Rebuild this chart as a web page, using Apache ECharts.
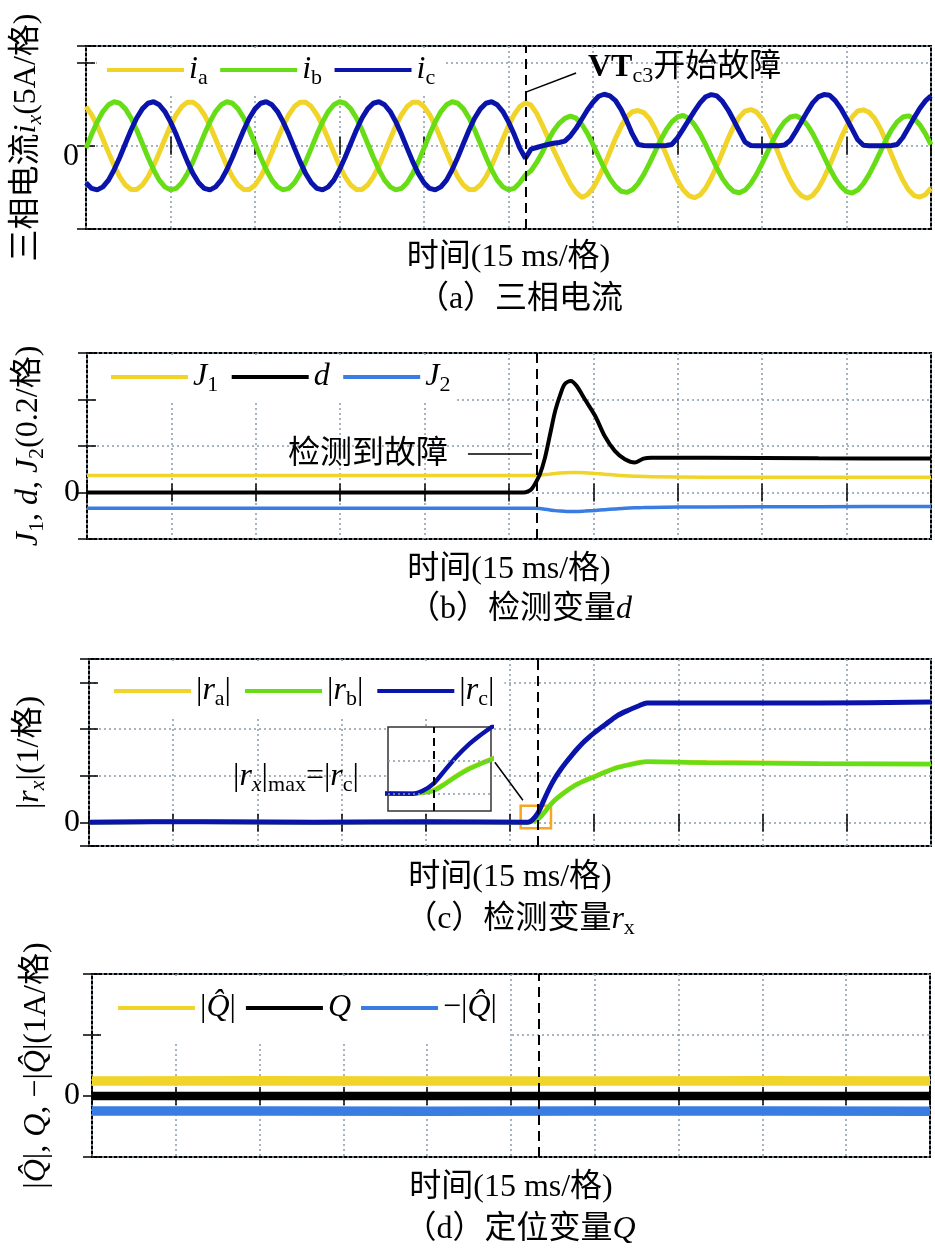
<!DOCTYPE html>
<html><head><meta charset="utf-8">
<script src="https://cdn.jsdelivr.net/npm/echarts@6/dist/echarts.min.js"></script>
<style>html,body{margin:0;padding:0;background:#fff}#c{width:935px;height:1251px}</style>
</head><body><div id="c"></div>
<script>
// ---------- data ----------
const tA = [
0,1,2,3,4,5,6,7,8,9,10,11,12,13,14,15,16,17,18,19,
20,21,22,23,24,25,26,27,28,29,30,31,32,33,34,35,36,37,38,39,
40,41,42,43,44,45,46,47,48,49,50,51,52,53,54,55,56,57,58,59,
60,61,62,63,64,65,66,67,68,69,70,71,72,73,74,75,76,77,78,79,
80,81,82,83,84,85,86,87,88,89,90,91,92,93,94,95,96,97,98,99,
100,101,102,103,104,105,106,107,108,109,110,111,112,113,114,115,116,117,118,119,
120,121,122,123,124,125,126,127,128,129,130,131,132,133,134,135,136,137,138,139,
140,141,142,143,144,145,146,147,148,149,150];
const ia = [
2.36,1.87,1.20,0.41,-0.41,-1.20,-1.87,-2.36,-2.62,-2.62,
-2.36,-1.87,-1.20,-0.41,0.41,1.20,1.87,2.36,2.62,2.62,
2.36,1.87,1.20,0.41,-0.41,-1.20,-1.87,-2.36,-2.62,-2.62,
-2.36,-1.87,-1.20,-0.41,0.41,1.20,1.87,2.36,2.62,2.62,
2.36,1.87,1.20,0.41,-0.41,-1.20,-1.87,-2.36,-2.62,-2.62,
-2.36,-1.87,-1.20,-0.41,0.41,1.20,1.87,2.36,2.62,2.62,
2.36,1.87,1.20,0.41,-0.41,-1.20,-1.87,-2.36,-2.62,-2.62,
-2.36,-1.87,-1.20,-0.41,0.41,1.20,1.87,2.36,2.58,2.45,
1.95,1.25,0.50,-0.25,-0.95,-1.65,-2.30,-2.80,-3.10,-2.94,
-2.54,-1.94,-1.19,-0.37,0.45,1.17,1.74,2.05,2.12,2.00,
1.64,1.04,0.29,-0.53,-1.35,-2.07,-2.64,-2.99,-3.12,-2.96,
-2.54,-1.94,-1.19,-0.37,0.45,1.17,1.74,2.09,2.18,2.04,
1.64,1.04,0.29,-0.53,-1.35,-2.07,-2.64,-3.00,-3.15,-2.98,
-2.56,-1.94,-1.19,-0.37,0.45,1.17,1.74,2.09,2.16,2.02,
1.64,1.04,0.29,-0.53,-1.35,-2.07,-2.64,-2.99,-3.08,-2.94,
-2.54];
const ib = [
-0.14,0.69,1.44,2.06,2.47,2.65,2.56,2.22,1.67,0.95,
0.14,-0.69,-1.44,-2.06,-2.47,-2.65,-2.56,-2.22,-1.67,-0.95,
-0.14,0.69,1.44,2.06,2.47,2.65,2.56,2.22,1.67,0.95,
0.14,-0.69,-1.44,-2.06,-2.47,-2.65,-2.56,-2.22,-1.67,-0.95,
-0.14,0.69,1.44,2.06,2.47,2.65,2.56,2.22,1.67,0.95,
0.14,-0.69,-1.44,-2.06,-2.47,-2.65,-2.56,-2.22,-1.67,-0.95,
-0.14,0.69,1.44,2.06,2.47,2.65,2.56,2.22,1.67,0.95,
0.14,-0.69,-1.44,-2.06,-2.47,-2.65,-2.56,-2.22,-1.75,-1.50,
-1.00,-0.40,0.30,0.90,1.35,1.65,1.78,1.66,1.30,0.75,
0.07,-0.64,-1.35,-1.97,-2.44,-2.73,-2.80,-2.64,-2.27,-1.73,
-1.07,-0.36,0.35,0.97,1.44,1.73,1.82,1.66,1.27,0.73,
0.07,-0.64,-1.35,-1.97,-2.44,-2.75,-2.82,-2.66,-2.27,-1.73,
-1.07,-0.36,0.35,0.97,1.44,1.73,1.80,1.64,1.27,0.73,
0.07,-0.64,-1.35,-1.97,-2.44,-2.75,-2.84,-2.66,-2.27,-1.73,
-1.07,-0.36,0.35,0.97,1.44,1.73,1.80,1.64,1.27,0.73,
0.07];
const ic = [
-2.22,-2.56,-2.65,-2.47,-2.06,-1.44,-0.69,0.14,0.95,1.67,
2.22,2.56,2.65,2.47,2.06,1.44,0.69,-0.14,-0.95,-1.67,
-2.22,-2.56,-2.65,-2.47,-2.06,-1.44,-0.69,0.14,0.95,1.67,
2.22,2.56,2.65,2.47,2.06,1.44,0.69,-0.14,-0.95,-1.67,
-2.22,-2.56,-2.65,-2.47,-2.06,-1.44,-0.69,0.14,0.95,1.67,
2.22,2.56,2.65,2.47,2.06,1.44,0.69,-0.14,-0.95,-1.67,
-2.22,-2.56,-2.65,-2.47,-2.06,-1.44,-0.69,0.14,0.95,1.67,
2.22,2.56,2.65,2.47,2.06,1.44,0.69,-0.14,-0.75,-0.20,
-0.10,0.00,0.08,0.15,0.20,0.28,0.60,1.05,1.60,2.15,
2.62,2.98,3.10,3.00,2.72,2.18,1.48,0.70,0.08,0.02,
0.00,0.00,0.01,0.02,0.08,0.48,1.00,1.55,2.08,2.58,
2.95,3.08,3.00,2.66,2.15,1.52,0.86,0.22,0.02,0.00,
0.01,0.00,0.02,0.01,0.05,0.32,0.86,1.45,2.04,2.58,
2.94,3.08,3.04,2.72,2.24,1.64,1.00,0.36,0.03,0.01,
0.00,0.01,0.00,0.02,0.08,0.50,1.08,1.68,2.24,2.70,
3.00];

const tB = [0,20,40,60,77.6,78.4,79.0,79.6,80.5,81.4,82.3,83.2,84.1,84.9,86.0,87.0,88.5,90.3,92.0,93.8,95.6,97.4,98.9,100.3,110,130,150];
const dB = [0,0,0,0,0,0.005,0.015,0.036,0.079,0.15,0.25,0.35,0.42,0.466,0.48,0.459,0.400,0.330,0.243,0.179,0.143,0.129,0.146,0.150,0.149,0.147,0.146];
const J1 = [0.073,0.073,0.073,0.073,0.073,0.073,0.073,0.074,0.075,0.077,0.079,0.082,0.084,0.085,0.086,0.086,0.085,0.082,0.079,0.075,0.072,0.070,0.069,0.068,0.066,0.066,0.066];
const J2 = [-0.068,-0.068,-0.068,-0.068,-0.068,-0.068,-0.068,-0.068,-0.069,-0.072,-0.075,-0.078,-0.080,-0.081,-0.082,-0.082,-0.080,-0.077,-0.074,-0.071,-0.068,-0.066,-0.065,-0.064,-0.062,-0.061,-0.060];

const tC = [0,20,40,60,78.2,79,80,81,82,83,84,85,86,87,88,89,90,92,94,96,98,99.4,110,130,150];
const rc = [0.01,0.02,0.01,0.02,0.01,0.06,0.21,0.47,0.73,0.95,1.13,1.29,1.44,1.58,1.71,1.82,1.92,2.10,2.28,2.40,2.50,2.56,2.56,2.56,2.58];
const rb = [0.01,0.02,0.01,0.02,0.01,0.03,0.07,0.20,0.35,0.48,0.58,0.67,0.75,0.82,0.88,0.93,0.98,1.08,1.17,1.23,1.28,1.30,1.28,1.26,1.25];
const ra = [0.01,0.02,0.01,0.02,0.01,0.03,0.08,0.21,0.36,0.49,0.59,0.68,0.76,0.83,0.89,0.94,0.99,1.09,1.18,1.24,1.29,1.31,1.29,1.27,1.26];

const tD = [0,30,60,90,120,150];
const Qh = [0.245,0.25,0.245,0.245,0.25,0.245];
const Q  = [0,0,0,0,0,0];
const nQ = [-0.245,-0.245,-0.25,-0.245,-0.245,-0.25];

const faultA = 78, detect = 80;

// ---------- styles ----------
const F = "'Liberation Serif','Noto Sans CJK SC',serif";
const YEL = '#f0d42a', GRN = '#66dd14', NAVY = '#0a14aa', LBLUE = '#3a7de2', ORG = '#f5a623';
const RICH = {
  r:  {fontFamily:F, fontSize:32, lineHeight:38, color:'#000'},
  b:  {fontFamily:F, fontSize:32, lineHeight:38, fontWeight:'bold', color:'#000'},
  i:  {fontFamily:F, fontSize:32, lineHeight:38, fontStyle:'italic', color:'#000'},
  s:  {fontFamily:F, fontSize:22, lineHeight:14, verticalAlign:'bottom', color:'#000'},
  si: {fontFamily:F, fontSize:22, lineHeight:14, verticalAlign:'bottom', fontStyle:'italic', color:'#000'}
};
const GRIDLINE = {show:true, lineStyle:{color:'#8a9aab', width:1.5, type:[2,3]}};
const TICK = {show:true, inside:true, length:9, lineStyle:{color:'#000', width:1.5}};
const pts = (t, v) => t.map((x, k) => [x, v[k]]);

function xb(g, gap){ return {type:'value', gridIndex:g, min:0, max:150, interval:15, position:'bottom',
  axisLine:{show:false}, axisTick:TICK, axisLabel:{show:false}, splitLine:GRIDLINE,
  name:'{r|时间(15 ms/格)}', nameLocation:'middle', nameGap:gap, nameTextStyle:{rich:RICH}}; }
function xt(g){ return {type:'value', gridIndex:g, min:0, max:150, interval:15, position:'top',
  axisLine:{show:false}, axisTick:TICK, axisLabel:{show:false}, splitLine:{show:false}}; }
function yl(g, mn, mx, itv, name, gap, lab){ const a = {type:'value', gridIndex:g, min:mn, max:mx, position:'left',
  axisLine:{show:false}, axisTick:TICK, splitLine:GRIDLINE,
  axisLabel:Object.assign({show:true, fontFamily:F, fontSize:32, color:'#000', formatter:v => (Math.abs(v) < 1e-9 ? '0' : '')}, lab),
  name:name, nameLocation:'middle', nameRotate:90, nameGap:gap, nameTextStyle:{rich:RICH}};
  if (itv) a.interval = itv; else a.splitNumber = 4; return a; }
function yr(g, mn, mx, itv){ const a = {type:'value', gridIndex:g, min:mn, max:mx, position:'right',
  axisLine:{show:false}, axisTick:TICK, axisLabel:{show:false}, splitLine:{show:false}};
  if (itv) a.interval = itv; else a.splitNumber = 4; return a; }

function line(name, xi, t, v, color, w, extra){ return Object.assign({name, type:'line', xAxisIndex:xi, yAxisIndex:xi,
  data:pts(t, v), showSymbol:false, symbol:'none', color, itemStyle:{color}, lineStyle:{color, width:w}, smooth:false, animation:false}, extra || {}); }
const DASH = {lineStyle:{type:[10,6], color:'#000', width:2}};
const LEAD = {lineStyle:{type:'solid', color:'#000', width:1.5}};
function ml(items){ return {silent:true, symbol:['none','none'], label:{show:false}, animation:false, data:items}; }

const legA = {ia:'{i|i}{s|a}', ib:'{i|i}{s|b}', ic:'{i|i}{s|c}',
  J1:'{i|J}{s|1}', d:'{i|d}', J2:'{i|J}{s|2}',
  ra:'{r||}{i|r}{s|a}{r||}', rb:'{r||}{i|r}{s|b}{r||}', rc:'{r||}{i|r}{s|c}{r||}',
  Qh:'{r||}{i|Q\u0302}{r||}', Q:'{i|Q}', nQ:'{r|\u2212|}{i|Q\u0302}{r||}'};
function legend(left, top, pad, gap, names, widths){ return {left, top, padding:pad, itemGap:gap, itemWidth:77, itemHeight:4, icon:'rect',
  backgroundColor:'#fff', selectedMode:false, formatter:n => legA[n],
  data:names.map((n, k) => ({name:n, textStyle:{width:widths[k], rich:RICH}})), textStyle:{rich:RICH}}; }

const option = {
  animation:false,
  backgroundColor:'#fff',
  grid:[
    {left:86, top:46, width:845, height:183, show:true, borderColor:'#000', borderWidth:2},
    {left:87, top:353, width:844, height:186, show:true, borderColor:'#000', borderWidth:2},
    {left:89, top:659, width:842, height:187, show:true, borderColor:'#000', borderWidth:2},
    {left:92, top:974, width:838, height:183, show:true, borderColor:'#000', borderWidth:2},
    {left:388, top:727, width:103, height:84, show:true, borderColor:'#333', borderWidth:1.5, backgroundColor:'#fff', z:3}
  ],
  xAxis:[ xb(0,10), xt(0), xb(1,12), xt(1), xb(2,13), xt(2), xb(3,12), xt(3),
    {type:'value', gridIndex:4, min:76, max:85, show:false} ],
  yAxis:[
    yl(0,-5,6,5,'{r|三相电流}{i|i}{si|x}{r|(5A/格)}',40,{margin:7, verticalAlign:'top', lineHeight:22}), yr(0,-5,6,5),
    yl(1,-0.2,0.6,0.2,'{i|J}{s|1}{r|, }{i|d}{r|, }{i|J}{s|2}{r|(0.2/格)}',39,{margin:7}), yr(1,-0.2,0.6,0.2),
    yl(2,-0.5,3.5,0,'{r||}{i|r}{si|x}{r||(1/格)}',40,{margin:9}), yr(2,-0.5,3.5,0),
    yl(3,-1,2,1,'{r||}{i|Q\u0302}{r||, }{i|Q}{r|, \u2212|}{i|Q\u0302}{r||(1A/格)}',36,{margin:12}), yr(3,-1,2,1),
    {type:'value', gridIndex:4, min:-0.325, max:1.3, show:false}
  ],
  legend:[
    legend(97, 48, [6,8,6,10], 12.5, ['ia','ib','ic'], [26,26,26]),
    legend(97, 355, [6,5,6,14], 13.5, ['J1','d','J2'], [32,32,32]),
    legend(99, 661, [14,10,6,15], 14, ['ra','rb','rc'], [44,44,44]),
    legend(102, 976, [16,12,18,16], 10, ['Qh','Q','nQ'], [52,29,51])
  ],
  series:[
    line('ia',0,tA,ia,YEL,5),
    line('ib',0,tA,ib,GRN,5),
    line('ic',0,tA,ic,NAVY,5,{markLine:ml([
      Object.assign({xAxis:faultA}, DASH),
      [Object.assign({coord:[78.2,3.24]}, LEAD), {coord:[87.0,4.38]}]
    ])}),
    line('J1',2,tB,J1,YEL,3.5,{smooth:0.3}),
    line('d',2,tB,dB,'#000',4,{smooth:0.3}),
    line('J2',2,tB,J2,LBLUE,3.5,{smooth:0.3, markLine:ml([
      Object.assign({xAxis:detect}, DASH),
      [Object.assign({coord:[67.7,0.165]}, LEAD), {coord:[79.1,0.165]}]
    ])}),
    line('ra',4,tC,ra,YEL,4.5,{smooth:0.3}),
    line('rb',4,tC,rb,GRN,4.5,{smooth:0.3}),
    line('rc',4,tC,rc,NAVY,5,{smooth:0.3, markLine:ml([
      Object.assign({xAxis:detect}, DASH),
      [Object.assign({coord:[72.3,1.29]}, LEAD), {coord:[77.3,0.48]}]
    ]), markArea:{silent:true, itemStyle:{color:'rgba(0,0,0,0)', borderColor:ORG, borderWidth:2.5}, data:[[{coord:[76.9,0.36]},{coord:[82.3,-0.12]}]]}}),
    line('Qh',6,tD,Qh,YEL,9.5),
    line('Q',6,tD,Q,'#000',8.5),
    line('nQ',6,tD,nQ,LBLUE,9.5,{markLine:ml([Object.assign({xAxis:detect}, DASH)])}),
    line('ra_i',8,tC,ra,YEL,4.5,{smooth:0.3, z:4, markLine:ml([
      {yAxis:0, lineStyle:{type:[2,3], color:'#8a9aab', width:1.5}},
      {yAxis:0.65, lineStyle:{type:[2,3], color:'#8a9aab', width:1.5}}
    ])}),
    line('rb_i',8,tC,rb,GRN,4.5,{smooth:0.3, z:4}),
    line('rc_i',8,tC,rc,NAVY,4.5,{smooth:0.3, z:4, markLine:ml([
      {xAxis:detect, lineStyle:{type:[8,5], color:'#000', width:2}}
    ])})
  ],
  graphic:[
    {type:'text', x:588, y:68, z:20, style:{text:'{b|VT}{s|c3}{r|开始故障}', rich:RICH, textVerticalAlign:'middle', textAlign:'left'}},
    {type:'text', x:288, y:455, z:20, style:{text:'{r|检测到故障}', rich:RICH, textVerticalAlign:'middle', textAlign:'left'}},
    {type:'text', x:233, y:777, z:20, style:{text:'{r||}{i|r}{si|x}{r||}{s|max}{r|=|}{i|r}{s|c}{r||}', rich:RICH, textVerticalAlign:'middle', textAlign:'left'}},
    {type:'text', x:520, y:300, z:20, style:{text:'{r|（a）三相电流}', rich:RICH, textVerticalAlign:'middle', textAlign:'center'}},
    {type:'text', x:520, y:610, z:20, style:{text:'{r|（b）检测变量}{i|d}', rich:RICH, textVerticalAlign:'middle', textAlign:'center'}},
    {type:'text', x:520, y:920, z:20, style:{text:'{r|（c）检测变量}{i|r}{s|x}', rich:RICH, textVerticalAlign:'middle', textAlign:'center'}},
    {type:'text', x:520, y:1230, z:20, style:{text:'{r|（d）定位变量}{i|Q}', rich:RICH, textVerticalAlign:'middle', textAlign:'center'}}
  ]
};
const chart = echarts.init(document.getElementById('c'), null, {renderer:'canvas'});
chart.setOption(option);
</script>
</body></html>
